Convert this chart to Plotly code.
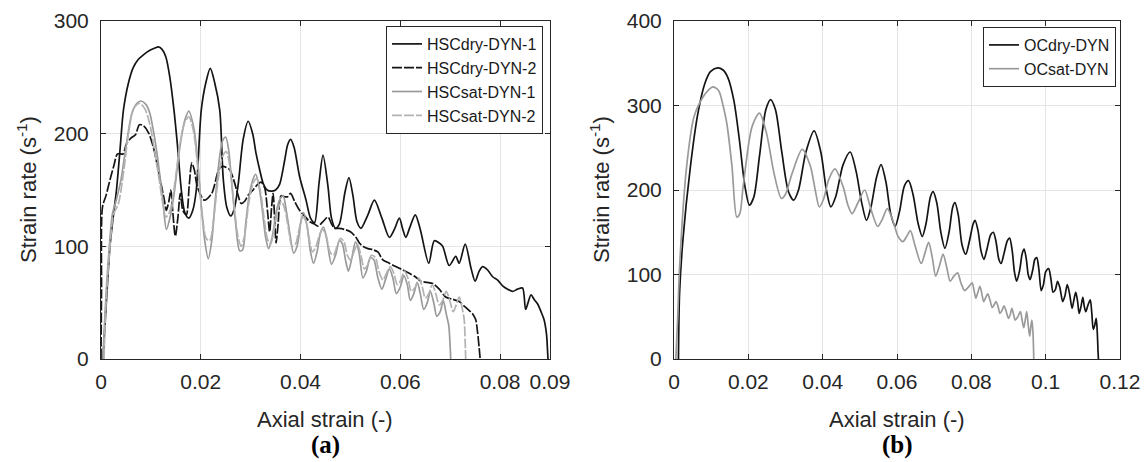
import plotly.graph_objects as go

# ---------------- data ----------------
# panel (a)
hsc_dry_1 = [(0.0004, 0), (0.0008, 30), (0.0012, 60), (0.0018, 100), (0.0025, 128), (0.0031, 150),
             (0.0038, 185), (0.0045, 221), (0.0055, 245), (0.0065, 259), (0.0075, 266), (0.0085, 270),
             (0.0098, 274), (0.0108, 276), (0.0115, 277), (0.0122, 275), (0.013, 268), (0.0138, 250),
             (0.0146, 222), (0.0153, 191), (0.0161, 150), (0.0168, 130), (0.0176, 125), (0.0184, 132),
             (0.0191, 150), (0.0201, 221), (0.021, 245), (0.0219, 258), (0.0228, 245), (0.0238, 221),
             (0.0245, 160), (0.0252, 135), (0.026, 127), (0.0267, 133), (0.0275, 155), (0.0285, 195),
             (0.0295, 211), (0.0304, 200), (0.0311, 182), (0.0318, 168), (0.0325, 156), (0.0333, 150),
             (0.0341, 149), (0.035, 150), (0.0358, 155), (0.0368, 176), (0.0374, 190), (0.038, 195),
             (0.0387, 188), (0.0398, 162), (0.0411, 141), (0.042, 125), (0.0428, 121), (0.0437, 156),
             (0.0445, 181), (0.0455, 153), (0.0462, 125), (0.047, 116), (0.0478, 120), (0.0489, 148),
             (0.0497, 161), (0.0505, 145), (0.0513, 122), (0.0521, 116), (0.0535, 128), (0.0548, 141),
             (0.0563, 125), (0.0578, 108), (0.0588, 115), (0.0598, 125), (0.0605, 115), (0.0611, 108),
             (0.062, 118), (0.063, 128), (0.064, 115), (0.0657, 85), (0.0668, 105), (0.0678, 103),
             (0.0685, 100), (0.0698, 83), (0.0711, 91), (0.0718, 85), (0.073, 102), (0.0742, 80),
             (0.075, 69), (0.0758, 78), (0.0765, 82), (0.0775, 79), (0.0785, 73), (0.0795, 70),
             (0.0805, 65), (0.0815, 62), (0.0825, 60), (0.0835, 62), (0.0845, 63), (0.0851, 44),
             (0.0856, 50), (0.0862, 57), (0.0868, 53), (0.0875, 49), (0.0882, 42), (0.0888, 35),
             (0.0893, 22), (0.0895, 8), (0.0896, 0)]

hsc_dry_2 = [(0.0, 0), (0.0001, 60), (0.0003, 135), (0.001, 145), (0.0018, 159), (0.0026, 172),
             (0.0033, 182), (0.0044, 182), (0.0051, 191), (0.006, 196), (0.0069, 199), (0.0077, 208),
             (0.0085, 207), (0.0095, 201), (0.0105, 188), (0.0116, 165), (0.0127, 141), (0.0131, 132),
             (0.0136, 140), (0.014, 150), (0.0144, 130), (0.0149, 109), (0.0154, 125), (0.0159, 147),
             (0.0164, 132), (0.0171, 128), (0.0177, 155), (0.0182, 174), (0.0187, 168), (0.0193, 153),
             (0.0207, 141), (0.0222, 147), (0.0237, 169), (0.0245, 171), (0.0251, 170), (0.0258, 168),
             (0.0266, 159), (0.0275, 145), (0.0281, 138), (0.0288, 140), (0.0296, 146), (0.0305, 150),
             (0.0314, 155), (0.0321, 157), (0.0328, 152), (0.0334, 130), (0.0338, 113), (0.0342, 135),
             (0.0345, 147), (0.0348, 125), (0.0351, 103), (0.0355, 120), (0.0361, 145), (0.0368, 144),
             (0.0374, 144), (0.038, 147), (0.0388, 140), (0.0398, 132), (0.0408, 127), (0.0418, 122),
             (0.0427, 120), (0.0435, 118), (0.0445, 122), (0.0455, 126), (0.0462, 120), (0.0468, 116),
             (0.0478, 116), (0.0488, 115), (0.05, 113), (0.0511, 108), (0.0518, 103), (0.0525, 100),
             (0.0535, 98), (0.0545, 97), (0.0555, 95), (0.0565, 88), (0.0578, 85), (0.0591, 82),
             (0.0605, 79), (0.0618, 76), (0.063, 73), (0.0641, 69), (0.0653, 68), (0.0665, 67),
             (0.0678, 62), (0.0691, 55), (0.0705, 53), (0.0718, 51), (0.0728, 47), (0.0738, 43),
             (0.0745, 40), (0.0751, 35), (0.0755, 23), (0.0758, 10), (0.076, 0)]

hsc_sat_1 = [(0.0004, 0), (0.0008, 40), (0.0015, 90), (0.0023, 129), (0.003, 140), (0.004, 159),
             (0.0051, 191), (0.0062, 218), (0.0072, 227), (0.008, 229), (0.009, 226), (0.0098, 218),
             (0.0106, 200), (0.0113, 180), (0.0124, 141), (0.0131, 115), (0.0138, 125), (0.0146, 145),
             (0.016, 194), (0.0168, 212), (0.0176, 220), (0.0186, 205), (0.0194, 175), (0.02, 141),
             (0.0208, 105), (0.0215, 89), (0.0222, 105), (0.0229, 141), (0.0238, 180), (0.0244, 194),
             (0.025, 197), (0.0256, 185), (0.0262, 156), (0.027, 120), (0.0278, 96), (0.0284, 97),
             (0.029, 120), (0.0297, 145), (0.0305, 160), (0.031, 164), (0.0316, 155), (0.0324, 130),
             (0.033, 108), (0.0336, 98), (0.0343, 108), (0.0352, 132), (0.0359, 142), (0.0365, 145),
             (0.0372, 130), (0.0379, 110), (0.0386, 94), (0.0393, 100), (0.04, 120), (0.0406, 130),
             (0.0413, 118), (0.042, 95), (0.0426, 85), (0.0433, 95), (0.044, 112), (0.0446, 117),
             (0.0453, 105), (0.0462, 84), (0.047, 92), (0.0478, 105), (0.0484, 102), (0.049, 88),
             (0.0496, 78), (0.0503, 90), (0.051, 104), (0.0517, 95), (0.0525, 72), (0.0532, 78),
             (0.054, 90), (0.0547, 88), (0.0555, 72), (0.0563, 62), (0.057, 70), (0.0578, 80),
             (0.0585, 72), (0.0592, 58), (0.06, 64), (0.0607, 74), (0.0614, 66), (0.062, 52),
             (0.0627, 58), (0.0634, 68), (0.064, 58), (0.0647, 44), (0.0654, 50), (0.066, 60),
             (0.0667, 50), (0.0673, 38), (0.068, 42), (0.0686, 52), (0.0692, 40), (0.0697, 30),
             (0.07, 10), (0.0701, 0)]

hsc_sat_2 = [(0.0006, 0), (0.001, 50), (0.0018, 100), (0.0025, 128), (0.0035, 138), (0.0045, 165),
             (0.0055, 200), (0.0065, 222), (0.0077, 227), (0.0088, 222), (0.0098, 208), (0.0108, 183),
             (0.0118, 155), (0.0125, 135), (0.013, 126), (0.0137, 130), (0.0146, 150), (0.0158, 190),
             (0.0168, 210), (0.0176, 215), (0.0185, 203), (0.0195, 165), (0.0203, 128), (0.0211, 107),
             (0.0218, 105), (0.0226, 125), (0.0235, 160), (0.0244, 180), (0.0251, 184), (0.0258, 172),
             (0.0266, 140), (0.0274, 110), (0.0281, 100), (0.0288, 110), (0.0296, 138), (0.0305, 156),
             (0.0312, 160), (0.0319, 150), (0.0327, 125), (0.0334, 106), (0.034, 102), (0.0347, 115),
             (0.0355, 133), (0.0362, 140), (0.0369, 132), (0.0376, 115), (0.0383, 100), (0.039, 102),
             (0.0397, 115), (0.0404, 126), (0.0411, 122), (0.0418, 105), (0.0424, 95), (0.0431, 100),
             (0.0438, 110), (0.0444, 115), (0.0451, 110), (0.0459, 95), (0.0466, 92), (0.0473, 100),
             (0.048, 107), (0.0487, 104), (0.0494, 92), (0.05, 88), (0.0507, 95), (0.0514, 102),
             (0.0521, 92), (0.0528, 80), (0.0535, 84), (0.0542, 92), (0.055, 90), (0.0557, 78),
             (0.0565, 70), (0.0572, 76), (0.058, 82), (0.0587, 76), (0.0594, 66), (0.0601, 70),
             (0.0608, 78), (0.0615, 72), (0.0622, 60), (0.063, 64), (0.0637, 72), (0.0644, 64),
             (0.065, 54), (0.0657, 58), (0.0664, 66), (0.0671, 58), (0.0678, 48), (0.0685, 52),
             (0.0692, 60), (0.0699, 52), (0.0706, 42), (0.0712, 48), (0.0718, 55), (0.0724, 45),
             (0.0728, 35), (0.073, 15), (0.0731, 0)]

# panel (b)
oc_dry = [(0.0012, 0), (0.0015, 78), (0.0024, 141), (0.0044, 227), (0.0064, 290), (0.0083, 326),
          (0.0098, 340), (0.0117, 344.5), (0.0132, 342), (0.0145, 333), (0.0161, 306), (0.0176, 259),
          (0.0191, 204), (0.0203, 182), (0.0215, 192), (0.023, 240), (0.0247, 295), (0.026, 307),
          (0.0273, 295), (0.029, 245), (0.0308, 198), (0.0322, 188), (0.0335, 200), (0.0355, 245),
          (0.0377, 270), (0.0395, 245), (0.041, 200), (0.0422, 180), (0.0435, 192), (0.0455, 230),
          (0.0474, 245), (0.049, 222), (0.0505, 185), (0.0518, 164), (0.053, 180), (0.0545, 215),
          (0.0557, 230), (0.057, 210), (0.0583, 172), (0.0595, 157), (0.0607, 175), (0.062, 205),
          (0.0631, 211), (0.0643, 195), (0.0657, 160), (0.0668, 145), (0.0678, 160), (0.069, 192),
          (0.0697, 198), (0.0707, 185), (0.0718, 150), (0.0729, 131), (0.074, 150), (0.075, 180),
          (0.0756, 185), (0.0765, 170), (0.0775, 135), (0.0785, 124), (0.0795, 140), (0.0805, 160),
          (0.081, 164), (0.0818, 152), (0.0826, 128), (0.0834, 118), (0.0842, 130), (0.0852, 147),
          (0.0859, 150), (0.0866, 140), (0.0874, 118), (0.088, 113), (0.0888, 125), (0.0897, 140),
          (0.0903, 143), (0.091, 128), (0.0916, 103), (0.0922, 92), (0.093, 105), (0.0937, 125),
          (0.0942, 130), (0.0948, 118), (0.0953, 100), (0.0958, 94), (0.0965, 105), (0.0971, 118),
          (0.0976, 120), (0.0982, 105), (0.0988, 81), (0.0994, 88), (0.1, 103), (0.1008, 107),
          (0.1014, 95), (0.102, 79), (0.1026, 82), (0.1032, 92), (0.1038, 85), (0.1046, 68),
          (0.1052, 75), (0.1058, 88), (0.1064, 78), (0.1071, 60), (0.1076, 70), (0.1081, 79),
          (0.1086, 68), (0.109, 54), (0.1095, 62), (0.11, 73), (0.1104, 62), (0.1108, 56),
          (0.1114, 64), (0.112, 70), (0.1124, 55), (0.1128, 35), (0.1132, 40), (0.1136, 48),
          (0.1139, 30), (0.1141, 8), (0.1142, 0)]

oc_sat = [(0.0005, 0), (0.001, 50), (0.0015, 109), (0.0034, 228), (0.0054, 287), (0.0078, 310),
          (0.0092, 318), (0.0105, 322), (0.0115, 320), (0.0122, 316), (0.0132, 300), (0.0142, 279),
          (0.0156, 228), (0.0169, 168), (0.0177, 172), (0.0186, 204), (0.021, 275), (0.023, 291),
          (0.0249, 267), (0.0269, 220), (0.0289, 190), (0.03, 195), (0.0318, 220), (0.0345, 248),
          (0.0367, 228), (0.038, 200), (0.0391, 180), (0.0403, 190), (0.0416, 212), (0.0433, 225),
          (0.0455, 204), (0.0468, 182), (0.0479, 172), (0.0494, 184), (0.0513, 200), (0.0528, 180),
          (0.0548, 157), (0.056, 165), (0.0574, 178), (0.0588, 165), (0.0603, 145), (0.0616, 139),
          (0.0626, 145), (0.0636, 152), (0.0648, 135), (0.0665, 113), (0.0675, 125), (0.0685, 138),
          (0.0695, 120), (0.0704, 98), (0.0714, 110), (0.0724, 124), (0.0734, 108), (0.0743, 92),
          (0.0753, 98), (0.0763, 102), (0.0772, 90), (0.0782, 81), (0.0792, 85), (0.0802, 90),
          (0.0807, 82), (0.0812, 72), (0.0817, 78), (0.0823, 86), (0.0828, 78), (0.0833, 68),
          (0.0838, 72), (0.0844, 77), (0.085, 70), (0.0856, 61), (0.0861, 64), (0.0866, 68),
          (0.0872, 62), (0.0877, 54), (0.0883, 58), (0.0888, 63), (0.0894, 56), (0.09, 48),
          (0.0905, 53), (0.0909, 60), (0.0914, 52), (0.0918, 46), (0.0925, 50), (0.0932, 56),
          (0.0937, 45), (0.0941, 37), (0.0945, 46), (0.0949, 56), (0.0953, 40), (0.0957, 27),
          (0.096, 38), (0.0963, 46), (0.0966, 30), (0.0968, 0)]

a_xticks = [0, 0.02, 0.04, 0.06, 0.08, 0.09]
a_xticklabels = ["0", "0.02", "0.04", "0.06", "0.08", "0.09"]
a_yticks = [0, 100, 200, 300]
b_xticks = [0, 0.02, 0.04, 0.06, 0.08, 0.1, 0.12]
b_xticklabels = ["0", "0.02", "0.04", "0.06", "0.08", "0.1", "0.12"]
b_yticks = [0, 100, 200, 300, 400]

# ---------------- figure ----------------
W, H = 1145, 462
FONT = "Liberation Sans, Arial, Helvetica, sans-serif"
BLACK = "#141414"
GREY1 = "#9a9a9a"
GREY2 = "#b2b2b2"

fig = go.Figure()


def add(series, name, color, dash, xa, ya, legend):
    xs = [p[0] for p in series]
    ys = [p[1] for p in series]
    fig.add_trace(go.Scatter(x=xs, y=ys, name=name, mode="lines",
                             line=dict(color=color, width=1.7, dash=dash, shape="spline", smoothing=0.8),
                             xaxis=xa, yaxis=ya, legend=legend))


add(hsc_dry_1, "HSCdry-DYN-1", BLACK, "solid", "x", "y", "legend")
add(hsc_dry_2, "HSCdry-DYN-2", BLACK, "10px,2px", "x", "y", "legend")
add(hsc_sat_1, "HSCsat-DYN-1", GREY1, "solid", "x", "y", "legend")
add(hsc_sat_2, "HSCsat-DYN-2", GREY2, "10px,2px", "x", "y", "legend")
add(oc_dry, "OCdry-DYN", BLACK, "solid", "x2", "y2", "legend2")
add(oc_sat, "OCsat-DYN", GREY1, "solid", "x2", "y2", "legend2")

ax_common = dict(showline=True, linecolor="#262626", linewidth=1, mirror="ticks",
                 ticks="inside", ticklen=5, tickcolor="#262626", showgrid=True,
                 gridcolor="#e4e4e4", gridwidth=1, zeroline=False, automargin=False,
                 tickfont=dict(family=FONT, size=21, color="#262626"))

y_dom = [(H - 359) / H, (H - 21) / H]
fig.update_layout(
    width=W, height=H, margin=dict(l=0, r=0, t=0, b=0, autoexpand=False),
    paper_bgcolor="white", plot_bgcolor="white",
    xaxis=dict(domain=[101 / W, 550 / W], range=[0, 0.09], tickvals=a_xticks, ticktext=a_xticklabels,
               anchor="y", ticklabelstandoff=4, **ax_common),
    yaxis=dict(domain=y_dom, range=[0, 300], tickvals=a_yticks, anchor="x", ticklabelstandoff=7, **ax_common),
    xaxis2=dict(domain=[674 / W, 1120 / W], range=[0, 0.12], tickvals=b_xticks, ticktext=b_xticklabels,
                anchor="y2", ticklabelstandoff=4, **ax_common),
    yaxis2=dict(domain=y_dom, range=[0, 400], tickvals=b_yticks, anchor="x2", ticklabelstandoff=7, **ax_common),
    legend=dict(x=543 / W, y=(H - 26) / H, xanchor="right", yanchor="top",
                bgcolor="white", bordercolor="#262626", borderwidth=1, tracegroupgap=0,
                font=dict(family=FONT, size=16, color="#1a1a1a")),
    legend2=dict(x=1116 / W, y=(H - 27) / H, xanchor="right", yanchor="top",
                 bgcolor="white", bordercolor="#262626", borderwidth=1, tracegroupgap=0,
                 font=dict(family=FONT, size=16, color="#1a1a1a")),
    showlegend=True,
)

ann = []
for cx, lab in [(325.5, "(a)"), (897, "(b)")]:
    ann.append(dict(x=cx / W, y=(H - 445) / H, xref="paper", yref="paper", text="<b>" + lab + "</b>",
                    showarrow=False, xanchor="center", yanchor="middle",
                    font=dict(family="Liberation Serif, Times New Roman, serif", size=25, color="black")))
for cx in [325.5, 897]:
    ann.append(dict(x=cx / W, y=(H - 419) / H, xref="paper", yref="paper", text="Axial strain (-)",
                    showarrow=False, xanchor="center", yanchor="middle",
                    font=dict(family=FONT, size=22, color="#262626")))
for cx in [27, 600]:
    ann.append(dict(x=cx / W, y=(H - 190) / H, xref="paper", yref="paper",
                    text="Strain rate (s<sup>-1</sup>)", textangle=-90,
                    showarrow=False, xanchor="center", yanchor="middle",
                    font=dict(family=FONT, size=22, color="#262626")))
fig.update_layout(annotations=ann)

fig.write_html("out.html")
